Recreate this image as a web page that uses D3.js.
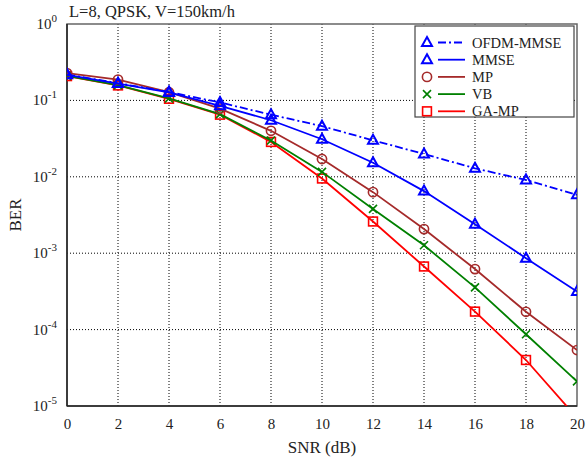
<!DOCTYPE html>
<html>
<head>
<meta charset="utf-8">
<script src="https://cdn.jsdelivr.net/npm/d3@7"></script>
<style>
  body { margin: 0; background: #fff; }
  svg text { font-family: "Liberation Serif", "DejaVu Serif", serif; fill: #222; }
</style>
</head>
<body>
<script>
// SNR points (dB)
var snr = [0, 2, 4, 6, 8, 10, 12, 14, 16, 18, 20];

// BER values
var ofdmMmse = [0.218, 0.168, 0.129, 0.094, 0.065, 0.046, 0.030, 0.0199, 0.0129, 0.0091, 0.0058];
var mmse     = [0.216, 0.166, 0.127, 0.085, 0.055, 0.031, 0.0153, 0.0065, 0.0024, 0.00086, 0.000315];
var mp       = [0.228, 0.187, 0.128, 0.078, 0.040, 0.0171, 0.0063, 0.00207, 0.00062, 0.000171, 0.000054];
var vb       = [0.209, 0.158, 0.106, 0.066, 0.0299, 0.0116, 0.0038, 0.00127, 0.000357, 0.000087, 0.000021];
var gaMp     = [0.208, 0.157, 0.105, 0.065, 0.0286, 0.0095, 0.0026, 0.00067, 0.000172, 0.00004, 0.000007];

var xTicks = [0, 2, 4, 6, 8, 10, 12, 14, 16, 18, 20];
var yExp = [0, -1, -2, -3, -4, -5];

var series = [
  {name: "OFDM-MMSE", values: ofdmMmse, color: "#0000ff", dash: "8,3,2,3", marker: "triangle"},
  {name: "MMSE", values: mmse, color: "#0000ff", dash: null, marker: "triangle"},
  {name: "MP", values: mp, color: "#a52a2a", dash: null, marker: "circle"},
  {name: "VB", values: vb, color: "#008000", dash: null, marker: "cross"},
  {name: "GA-MP", values: gaMp, color: "#ff0000", dash: null, marker: "square"}
];

var serif = "'Liberation Serif', 'DejaVu Serif', serif";
var W = 587, H = 463;
var margin = {top: 24, right: 10, bottom: 57, left: 67};
var width = W - margin.left - margin.right;
var height = H - margin.top - margin.bottom;

var svg = d3.select("body").append("svg")
  .attr("width", W)
  .attr("height", H)
  .attr("font-family", serif);

var g = svg.append("g")
  .attr("transform", "translate(" + margin.left + "," + margin.top + ")");

var x = d3.scaleLinear().domain([0, 20]).range([0, width]);
var y = d3.scaleLog().domain([1e-5, 1]).range([height, 0]);

// grid
g.selectAll(".vgrid").data(xTicks.slice(1, -1)).enter().append("line")
  .attr("x1", function(d) { return x(d); })
  .attr("x2", function(d) { return x(d); })
  .attr("y1", 0).attr("y2", height)
  .attr("stroke", "#000").attr("stroke-width", 1)
  .attr("stroke-dasharray", "1,2");

g.selectAll(".hgrid").data(yExp.slice(1, -1)).enter().append("line")
  .attr("x1", 0).attr("x2", width)
  .attr("y1", function(d) { return y(Math.pow(10, d)); })
  .attr("y2", function(d) { return y(Math.pow(10, d)); })
  .attr("stroke", "#000").attr("stroke-width", 1)
  .attr("stroke-dasharray", "1,2");

// frame
g.append("rect")
  .attr("width", width).attr("height", height)
  .attr("fill", "none").attr("stroke", "#666").attr("stroke-width", 1.5);
g.append("line")
  .attr("x1", 0).attr("x2", 0).attr("y1", 0).attr("y2", height)
  .attr("stroke", "#222").attr("stroke-width", 1.5);
g.append("line")
  .attr("x1", 0).attr("x2", width).attr("y1", height).attr("y2", height)
  .attr("stroke", "#222").attr("stroke-width", 1.5);

// x ticks
var xAxis = d3.axisBottom(x).tickValues(xTicks).tickSize(0).tickPadding(12);
var xg = g.append("g").attr("transform", "translate(0," + height + ")").call(xAxis);
xg.attr("font-family", serif);
xg.select(".domain").remove();
xg.selectAll("text").style("font-size", "15px").style("font-family", serif).attr("fill", "#222");

// y ticks: 10^n
var yl = g.selectAll(".ylab").data(yExp).enter().append("text")
  .attr("x", -10)
  .attr("y", function(d) { return y(Math.pow(10, d)) + 5; })
  .attr("text-anchor", "end")
  .style("font-family", serif)
  .style("font-size", "15px");
yl.append("tspan").text("10");
yl.append("tspan").attr("dy", -7).style("font-size", "11px").text(function(d) { return d; });

// curves
g.append("clipPath").attr("id", "plotclip")
  .append("rect").attr("width", width).attr("height", height);

var line = d3.line()
  .x(function(d, i) { return x(snr[i]); })
  .y(function(d) { return y(d); });

var plot = g.append("g").attr("clip-path", "url(#plotclip)");

function drawMarker(sel, type, color) {
  if (type === "triangle") {
    sel.append("path").attr("d", "M0,-5.5L5,3.5L-5,3.5Z")
      .attr("fill", "none").attr("stroke", color).attr("stroke-width", 2);
  } else if (type === "circle") {
    sel.append("circle").attr("r", 4.6)
      .attr("fill", "none").attr("stroke", color).attr("stroke-width", 1.6);
  } else if (type === "cross") {
    sel.append("path").attr("d", "M-4,-4L4,4M-4,4L4,-4")
      .attr("fill", "none").attr("stroke", color).attr("stroke-width", 1.6);
  } else if (type === "square") {
    sel.append("rect").attr("x", -4.4).attr("y", -4.4).attr("width", 8.8).attr("height", 8.8)
      .attr("fill", "none").attr("stroke", color).attr("stroke-width", 1.6);
  }
}

// draw in reverse so blue sits on top as in the reference
series.slice().reverse().forEach(function(s) {
  plot.append("path")
    .attr("d", line(s.values))
    .attr("fill", "none")
    .attr("stroke", s.color)
    .attr("stroke-width", 1.8)
    .attr("stroke-dasharray", s.dash);
  s.values.forEach(function(v, i) {
    if (v < 1e-5) return;
    var m = plot.append("g").attr("transform", "translate(" + x(snr[i]) + "," + y(v) + ")");
    drawMarker(m, s.marker, s.color);
  });
});

// legend
var lg = svg.append("g").attr("transform", "translate(415,26)");
lg.append("rect").attr("width", 159).attr("height", 91)
  .attr("fill", "#fff").attr("stroke", "#444").attr("stroke-width", 1.2);
var items = lg.selectAll(".item").data(series).enter().append("g")
  .attr("transform", function(d, i) { return "translate(0," + (16.5 + i * 17.2) + ")"; });
items.each(function(d) {
  var m = d3.select(this).append("g").attr("transform", "translate(12,0)");
  drawMarker(m, d.marker, d.color);
});
items.append("line")
  .attr("x1", 23).attr("x2", 50).attr("y1", 0).attr("y2", 0)
  .attr("stroke", function(d) { return d.color; })
  .attr("stroke-width", 1.8)
  .attr("stroke-dasharray", function(d) { return d.dash; });
items.append("text")
  .attr("x", 57).attr("y", 5)
  .style("font-family", serif)
  .style("font-size", "14.5px")
  .text(function(d) { return d.name; });

// title and axis labels
svg.append("text")
  .attr("x", 69).attr("y", 17)
  .style("font-family", serif)
  .style("font-size", "16.5px")
  .text("L=8, QPSK, V=150km/h");

svg.append("text")
  .attr("x", margin.left + width / 2).attr("y", 453)
  .attr("text-anchor", "middle")
  .style("font-family", serif)
  .style("font-size", "17px")
  .text("SNR (dB)");

svg.append("text")
  .attr("transform", "translate(21," + (margin.top + height / 2) + ") rotate(-90)")
  .attr("text-anchor", "middle")
  .style("font-family", serif)
  .style("font-size", "17px")
  .text("BER");
</script>
</body>
</html>
